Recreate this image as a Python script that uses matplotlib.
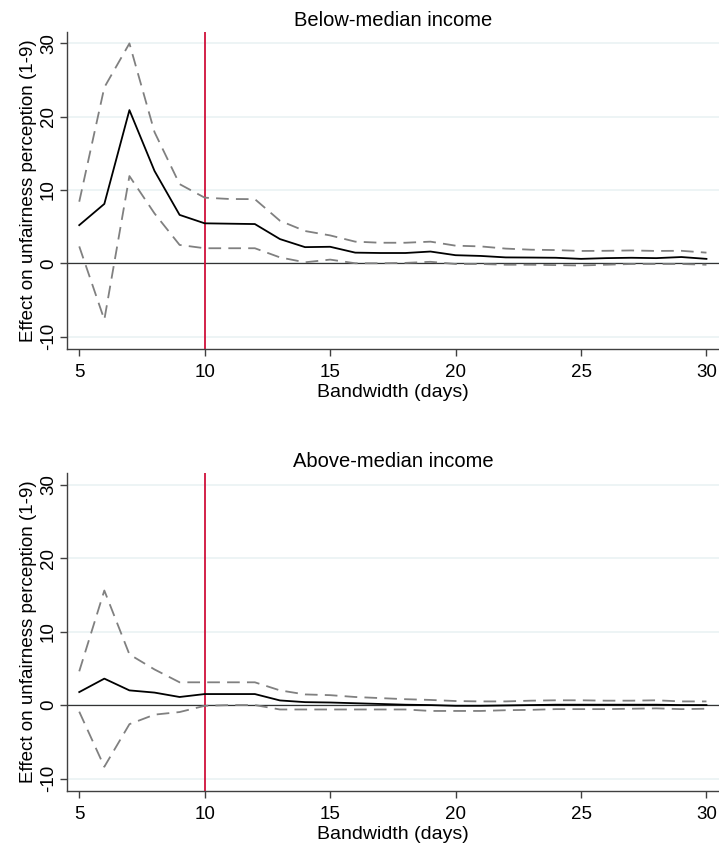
#!/usr/bin/env python3
"""Bandwidth sensitivity: effect on unfairness perception by income group."""
import matplotlib
matplotlib.use("Agg")
import matplotlib.pyplot as plt

plt.rcParams['font.family'] = ['Liberation Sans', 'DejaVu Sans']
plt.rcParams['axes.unicode_minus'] = False

bandwidth = list(range(5, 31))

# Below-median income
below_est = [5.2, 8.1, 20.9, 12.6, 6.6, 5.45, 5.4, 5.35, 3.3, 2.2, 2.25, 1.45, 1.4,
             1.4, 1.6, 1.1, 1.0, 0.8, 0.78, 0.75, 0.6, 0.7, 0.75, 0.7, 0.85, 0.6]
below_hi = [8.4, 24.0, 30.0, 17.9, 10.8, 8.95, 8.77, 8.75, 5.8, 4.4, 3.8, 2.95, 2.8,
            2.8, 2.95, 2.4, 2.3, 2.0, 1.85, 1.8, 1.68, 1.7, 1.75, 1.68, 1.7, 1.45]
below_lo = [2.3, -7.7, 11.9, 6.8, 2.5, 2.05, 2.05, 2.05, 0.8, 0.13, 0.5, 0.0, 0.0,
            0.05, 0.2, -0.1, -0.1, -0.2, -0.2, -0.25, -0.3, -0.2, -0.1, -0.1, -0.1, -0.2]

# Above-median income
above_est = [1.77, 3.6, 2.0, 1.7, 1.1, 1.5, 1.5, 1.5, 0.63, 0.4, 0.35, 0.25, 0.15,
             0.05, 0.0, -0.1, -0.1, -0.05, 0.0, 0.05, 0.05, 0.05, 0.05, 0.05, 0.0, 0.0]
above_hi = [4.6, 15.6, 6.9, 4.85, 3.1, 3.1, 3.1, 3.1, 2.0, 1.45, 1.35, 1.1, 0.95,
            0.8, 0.7, 0.55, 0.5, 0.5, 0.6, 0.65, 0.65, 0.6, 0.6, 0.65, 0.5, 0.5]
above_lo = [-0.9, -8.4, -2.6, -1.3, -0.95, -0.1, 0.0, 0.0, -0.6, -0.6, -0.6, -0.6, -0.6,
            -0.6, -0.8, -0.8, -0.8, -0.7, -0.65, -0.55, -0.55, -0.55, -0.5, -0.45, -0.55, -0.5]

panels = [
    ("Below-median income", below_est, below_hi, below_lo),
    ("Above-median income", above_est, above_hi, above_lo),
]

W, H = 719, 846
fig = plt.figure(figsize=(W / 100, H / 100), dpi=100)

left = 66.7 / W
width = 1 - left
boxes = [(31.7, 349.0), (473.0, 791.0)]  # top, bottom in pixels

for (title, est, hi, lo), (ptop, pbot) in zip(panels, boxes):
    ax = fig.add_axes([left, 1 - pbot / H, width, (pbot - ptop) / H])
    ax.set_xlim(4.5, 30.5)
    ax.set_ylim(-11.7, 31.6)
    ax.set_yticks([-10, 0, 10, 20, 30])
    ax.set_xticks([5, 10, 15, 20, 25, 30])
    ax.grid(axis='y', color='#eaf2f3', linewidth=1.2)
    ax.set_axisbelow(True)
    ax.axhline(0, color='#333333', linewidth=0.9, zorder=2)
    ax.axvline(10, color='#d0103a', linewidth=1.3, zorder=2)
    ax.plot(bandwidth, hi, color='#808080', linewidth=1.3, dashes=(7, 4), zorder=3)
    ax.plot(bandwidth, lo, color='#808080', linewidth=1.3, dashes=(7, 4), zorder=3)
    ax.plot(bandwidth, est, color='black', linewidth=1.3, zorder=4)
    for s in ['top', 'right']:
        ax.spines[s].set_visible(False)
    for s in ['left', 'bottom']:
        ax.spines[s].set_color('#404040')
        ax.spines[s].set_linewidth(1.0)
    ax.tick_params(axis='both', length=5, width=1.0, color='#404040', labelsize=13.5)
    ax.tick_params(axis='x', pad=6)
    ax.tick_params(axis='y', pad=2)
    for lbl in ax.get_yticklabels():
        lbl.set_rotation(90)
        lbl.set_va('center')
    ax.set_title(title, fontsize=14.5, pad=4)
    ax.set_xlabel("Bandwidth (days)", fontsize=14, labelpad=2)
    ax.set_ylabel("Effect on unfairness perception (1-9)", fontsize=13.5, labelpad=2)

fig.savefig("out.png", dpi=100)
